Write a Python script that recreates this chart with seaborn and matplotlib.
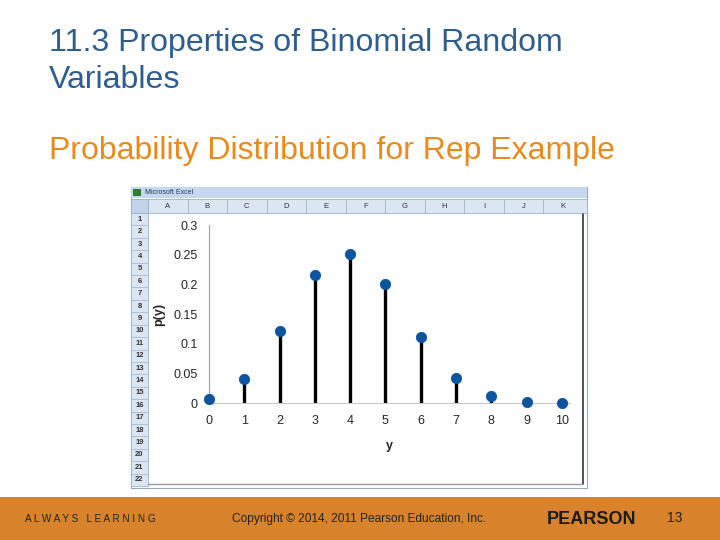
import numpy as np
import pandas as pd
import matplotlib.pyplot as plt
from matplotlib.patches import Rectangle
import seaborn as sns

# data (binomial, n = 10)
y_vals = [0, 1, 2, 3, 4, 5, 6, 7, 8, 9, 10]
p_vals = [0.006, 0.040, 0.121, 0.215, 0.251, 0.201, 0.111, 0.042, 0.011, 0.002, 0.000]
y_ticks = [0, 0.05, 0.1, 0.15, 0.2, 0.25, 0.3]
y_tick_labels = ["0", "0.05", "0.1", "0.15", "0.2", "0.25", "0.3"]
col_letters = ["A", "B", "C", "D", "E", "F", "G", "H", "I", "J", "K"]
row_numbers = [str(i) for i in range(1, 23)]

df = pd.DataFrame({"y": y_vals, "p": p_vals})

sns.set_style("white")
plt.rcParams["font.family"] = ["Liberation Sans", "DejaVu Sans"]

fig = plt.figure(figsize=(7.2, 5.4), dpi=100)

# background layer in pixel coordinates (slide + excel frame)
bg = fig.add_axes([0, 0, 1, 1])
bg.set_xlim(0, 720)
bg.set_ylim(540, 0)
bg.axis("off")

# slide titles
bg.text(49, 43, "11.3 Properties of Binomial Random", fontsize=23.1, color="#2F5E8E", va="center")
bg.text(49, 80, "Variables", fontsize=23.1, color="#2F5E8E", va="center")
bg.text(49, 151, "Probability Distribution for Rep Example", fontsize=23, color="#E98A1E", va="center")

# footer band
bg.add_patch(Rectangle((0, 497), 720, 43, color="#D8832B", lw=0))
bg.text(25, 519, "A L W A Y S   L E A R N I N G", fontsize=7.2, color="#222222", va="center")
bg.text(232, 519, "Copyright © 2014, 2011 Pearson Education, Inc.", fontsize=8.6, color="#222222", va="center")
bg.text(547, 519, "PEARSON", fontsize=13, fontweight="bold", color="#1a1a1a", va="center")
bg.text(667, 518, "13", fontsize=10, color="#222222", va="center")

# excel window
bg.add_patch(Rectangle((131, 187), 456, 301, facecolor="white", edgecolor="#9aa9bd", lw=0.8))
bg.add_patch(Rectangle((131, 187), 456, 11, facecolor="#C5D8EF", lw=0))
bg.add_patch(Rectangle((133, 189), 8, 7, facecolor="#2E7D32", lw=0))
bg.text(145, 192.5, "Microsoft Excel", fontsize=5, color="#1f3a5f", va="center")
bg.add_patch(Rectangle((131, 199), 456, 14, facecolor="#DCE6F2", edgecolor="#9db3d0", lw=0.6))
col_edges = np.linspace(148, 583, len(col_letters) + 1)
for i, letter in enumerate(col_letters):
    bg.plot([col_edges[i], col_edges[i]], [199, 213], color="#9db3d0", lw=0.6)
    bg.text((col_edges[i] + col_edges[i + 1]) / 2, 206.5, letter, fontsize=5.5, color="#333333",
            ha="center", va="center")
bg.add_patch(Rectangle((131, 199), 17, 14, facecolor="#C2D4EA", edgecolor="#9db3d0", lw=0.6))
row_edges = np.linspace(213, 486, len(row_numbers) + 1)
bg.add_patch(Rectangle((131, 213), 17, 273, facecolor="#DCE6F2", edgecolor="#9db3d0", lw=0.6))
for i, num in enumerate(row_numbers):
    bg.plot([131, 148], [row_edges[i], row_edges[i]], color="#9db3d0", lw=0.5)
    bg.text(139.5, (row_edges[i] + row_edges[i + 1]) / 2, num, fontsize=5.5, fontweight="bold",
            color="#333333", ha="center", va="center")
# chart area border
bg.plot([583, 583], [214, 484], color="#333333", lw=1.2)
bg.plot([148, 583], [484, 484], color="#999999", lw=1.0)

# the chart
ax = fig.add_axes([209 / 720, 1 - 403 / 540, 361 / 720, 178 / 540])
ax.patch.set_alpha(0)
ax.vlines(df["y"], 0, df["p"], color="black", lw=2.4, zorder=2)
sns.scatterplot(data=df, x="y", y="p", ax=ax, color="#0B54A0", s=55, edgecolor="#0B54A0",
                zorder=3, clip_on=False, legend=False)
ax.set_xlim(0, 10.23)
ax.set_ylim(0, 0.3)
ax.set_xticks(y_vals)
ax.set_xticklabels([str(v) for v in y_vals])
ax.set_yticks(y_ticks)
ax.set_yticklabels(y_tick_labels)
for side in ["top", "right"]:
    ax.spines[side].set_visible(False)
ax.spines["left"].set_color("#a0a0a0")
ax.spines["bottom"].set_color("#c8c8c8")
ax.tick_params(axis="y", length=4, color="#888888", labelsize=9, pad=4)
ax.tick_params(axis="x", length=0, labelsize=9, pad=9)
ax.set_xlabel("y", fontsize=9, fontweight="bold", labelpad=9)
ax.set_ylabel("p(y)", fontsize=9, fontweight="bold", labelpad=6)

fig.savefig("out.png", dpi=100)
